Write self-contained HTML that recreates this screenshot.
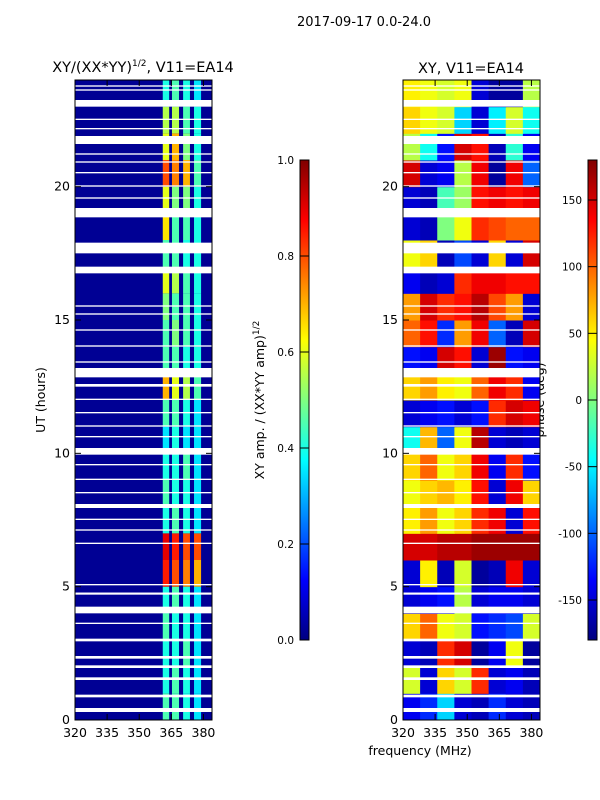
<!DOCTYPE html>
<html><head><meta charset="utf-8"><style>
html,body{margin:0;padding:0;background:#fff;}
svg{display:block;font-family:"DejaVu Sans","Liberation Sans",sans-serif;}
</style></head><body>
<svg id="fig" width="600" height="800" viewBox="0 0 600 800" xmlns="http://www.w3.org/2000/svg">
<text x="364" y="26" font-size="13" text-anchor="middle">2017-09-17 0.0-24.0</text>
<text x="143" y="72" font-size="14.5" text-anchor="middle">XY/(XX*YY)<tspan font-size="9" dy="-6">1/2</tspan><tspan dy="6">, V11=EA14</tspan></text>
<text x="471" y="73" font-size="14.5" text-anchor="middle">XY, V11=EA14</text>
<text transform="translate(45,400) rotate(-90)" font-size="12.5" text-anchor="middle">UT (hours)</text>
<text x="420" y="755" font-size="12.5" text-anchor="middle">frequency (MHz)</text>
<text transform="translate(264,400) rotate(-90)" font-size="12.5" text-anchor="middle">XY amp. / (XX*YY amp)<tspan font-size="9" dy="-5">1/2</tspan></text>
<text transform="translate(544,400) rotate(-90)" font-size="12.5" text-anchor="middle">phase (deg)</text>
<g id="left"></g><g id="right"></g><g id="cb"></g>
</svg>
<script>
// ---- data ----
const hours=[0,1,2,3,4,5,6,7,8,9,10,11,12,13,14,15,16,17,18,19,20,21,22,23];
const bandFreqs=[[361,364],[365.3,368.6],[370.5,373.7],[375.6,378.9]];
const ampRows=[[0.45,0.45,0.4,0.35],[0.4,0.45,0.4,0.35],[0.4,0.4,0.45,0.35],[0.45,0.4,0.4,0.35],[0.4,0.45,0.4,0.35],[0.85,0.8,0.75,0.7],[0.9,0.85,0.8,0.8],[0.4,0.45,0.4,0.35],[0.45,0.4,0.4,0.35],[0.4,0.4,0.45,0.35],[0.35,0.4,0.35,0.35],[0.45,0.45,0.4,0.35],[0.7,0.6,0.55,0.45],[0.45,0.45,0.4,0.4],[0.45,0.5,0.45,0.4],[0.5,0.45,0.45,0.4],[0.6,0.55,0.45,0.4],[0.45,0.45,0.4,0.4],[0.65,0.45,0.45,0.4],[0.6,0.5,0.5,0.4],[0.8,0.75,0.7,0.45],[0.6,0.7,0.5,0.4],[0.55,0.55,0.45,0.4],[0.4,0.45,0.4,0.35]];
const bgAmp=0.02;
const phaseBins=[320,328,336,344,352,360,368,376,384];
const phaseRows=[
[-140,-120,-60,-150,-160,-120,-150,-160],[30,-150,60,30,120,-150,-140,-160],[-150,-160,120,150,-170,-140,40,-170],[60,100,40,30,-130,-120,-110,30],
[-150,-140,-130,20,-150,-140,-140,-150],[-150,50,-160,30,-170,-160,140,-150],[150,150,160,160,170,170,170,170],[50,80,40,60,120,140,-150,130],
[40,60,70,50,130,-150,140,60],[60,100,40,60,140,-140,120,-130],[-40,70,-100,40,160,-150,-160,-150],[-150,-140,-130,-150,-130,120,150,140],
[60,80,50,40,100,140,120,-140],[-130,-140,150,130,-150,170,-130,-140],[100,130,-120,80,140,-100,-160,150],[80,150,120,130,160,110,80,-150],
[-140,-160,-150,120,140,140,130,130],[40,60,-160,-110,-150,60,-150,150],[-150,-160,0,40,120,110,100,100],[-150,-160,-20,10,130,140,130,140],
[150,-150,-140,20,140,-170,140,-100],[20,-40,-130,150,130,-160,-30,-140],[60,40,30,-60,-150,-50,30,-40],[50,40,30,40,-150,-170,-170,20]];
const flags=[[0.3,0.45],[0.85,0.95],[1.5,1.6],[1.95,2.05],[2.3,2.4],[2.95,3.05],[3.6,3.65],[4.0,4.25],[4.7,4.78],[5.05,5.1],[6.6,6.65],[7.1,7.15],[7.5,7.55],[7.95,8.1],[8.5,8.55],[9.0,9.05],[9.55,9.6],[9.95,10.2],[10.6,10.65],[11.0,11.05],[11.5,11.55],[12.0,12.05],[12.5,12.6],[12.85,13.2],[13.4,13.45],[14.0,14.05],[14.6,14.65],[15.2,15.25],[15.5,15.55],[16.75,17.0],[17.5,17.9],[18.85,19.2],[19.55,19.6],[20.0,20.05],[20.5,20.55],[20.9,20.95],[21.2,21.25],[21.6,21.9],[22.15,22.2],[22.5,22.55],[23.0,23.25],[23.6,23.65],[23.75,23.8]];
const xTicks=[320,335,350,365,380];
const yTicks=[0,5,10,15,20];
const ampTicks=[0.0,0.2,0.4,0.6,0.8,1.0];
const phaseTicks=[-150,-100,-50,0,50,100,150];
// ---- helpers ----
const NS='http://www.w3.org/2000/svg';
function jet(v){v=Math.max(0,Math.min(1,v));
 const r=Math.max(0,Math.min(1,1.5-Math.abs(4*v-3))),g=Math.max(0,Math.min(1,1.5-Math.abs(4*v-2))),b=Math.max(0,Math.min(1,1.5-Math.abs(4*v-1)));
 return `rgb(${Math.round(r*255)},${Math.round(g*255)},${Math.round(b*255)})`;}
function mk(tag,at,parent){const e=document.createElementNS(NS,tag);for(const k in at)e.setAttribute(k,at[k]);parent.appendChild(e);return e;}
const yS=h=>720-h*(640/24);
function xS(x0){return f=>x0+(f-320)*137/64;}
function panel(gid,x0,isPhase){
 const g=document.getElementById(gid);const xs=xS(x0);
 mk('clipPath',{id:'c'+gid},g);mk('rect',{x:x0,y:80,width:137,height:640},g.lastChild);
 const inner=mk('g',{'clip-path':'url(#c'+gid+')'},g);
 
 
 if(!isPhase){
  const bg=mk('rect',{x:x0,y:80,width:137,height:640,fill:jet(bgAmp)},inner);
  
  hours.forEach((h,i)=>{ampRows[i].forEach((a,j)=>{const bf=bandFreqs[j];
   const c=mk('rect',{x:xs(bf[0]),y:yS(h+1),width:xs(bf[1])-xs(bf[0]),height:yS(h)-yS(h+1),fill:jet(a)},inner);
   });});
 } else {
  hours.forEach((h,i)=>{phaseRows[i].forEach((p,j)=>{
   const c=mk('rect',{x:xs(phaseBins[j]),y:yS(h+1),width:xs(phaseBins[j+1])-xs(phaseBins[j])+0.5,height:yS(h)-yS(h+1)+0.5,fill:jet((p+180)/360)},inner);
   });});
 }
 flags.forEach(f=>{const r=mk('rect',{x:x0,y:yS(f[1]),width:137,height:yS(f[0])-yS(f[1]),fill:'#fff'},inner);
  });
 const fr=mk('rect',{x:x0,y:80,width:137,height:640,fill:'none',stroke:'#000','stroke-width':1},g);
 
 xTicks.forEach(t=>{const x=xs(t);mk('line',{x1:x,x2:x,y1:720,y2:714,stroke:'#000'},g);mk('line',{x1:x,x2:x,y1:80,y2:86,stroke:'#000'},g);
  const tx=mk('text',{x:x,y:737,'font-size':12.5,'text-anchor':'middle'},g);tx.textContent=t;
  });
 yTicks.forEach(t=>{const y=yS(t);mk('line',{x1:x0,x2:x0+6,y1:y,y2:y,stroke:'#000'},g);mk('line',{x1:x0+137,x2:x0+131,y1:y,y2:y,stroke:'#000'},g);
  const tx=mk('text',{x:x0-5,y:y+4,'font-size':12.5,'text-anchor':'end'},g);tx.textContent=t;
  });
}
panel('left',75,false);panel('right',403,true);
// colorbars
const cb=document.getElementById('cb');
const defs=mk('defs',{},cb);const lg=mk('linearGradient',{id:'jetg',x1:0,y1:1,x2:0,y2:0},defs);
for(let i=0;i<=16;i++)mk('stop',{offset:i/16,'stop-color':jet(i/16)},lg);
function colorbar(x,ticks,lo,hi,name){
 const r=mk('rect',{x:x,y:160,width:9,height:480,fill:'url(#jetg)',stroke:'#000','stroke-width':1},cb);
 
 ticks.forEach(t=>{const y=640-(t-lo)/(hi-lo)*480;mk('line',{x1:x,x2:x+9,y1:y,y2:y,stroke:'#000'},cb);
  const tx=mk('text',{x:x-6,y:y+4,'font-size':10.5,'text-anchor':'end'},cb);tx.textContent=name==='amp-colorbar'?t.toFixed(1):t;
  });
}
colorbar(300,ampTicks,0,1,'amp-colorbar');
colorbar(588,phaseTicks,-180,180,'phase-colorbar');
</script>
</body></html>
